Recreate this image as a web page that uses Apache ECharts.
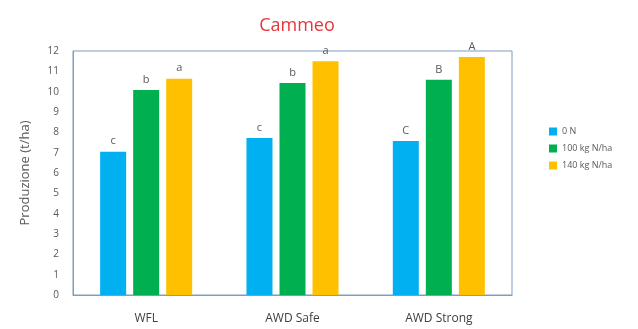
<!DOCTYPE html>
<html>
<head>
<meta charset="utf-8">
<script src="https://cdn.jsdelivr.net/npm/echarts@6/dist/echarts.min.js"></script>
<style>
  html, body { margin: 0; padding: 0; background: #fff; }
  #chart { width: 638px; height: 329px; }
</style>
</head>
<body>
<div id="chart"></div>
<script>
// Rice yield by irrigation regime and nitrogen dose
const categories = ['WFL', 'AWD Safe', 'AWD Strong'];
const seriesNames = ['0 N', '100 kg N/ha', '140 kg N/ha'];
const yield0N = [7.05, 7.72, 7.57];
const yield100N = [10.08, 10.43, 10.58];
const yield140N = [10.63, 11.5, 11.7];
const letters0N = ['c', 'c', 'C'];
const letters100N = ['b', 'b', 'B'];
const letters140N = ['a', 'a', 'A'];
const yTicks = [0, 12, 1];

const colors = ['#00b0f0', '#00b050', '#ffc000'];
const values = [yield0N, yield100N, yield140N];
const letters = [letters0N, letters100N, letters140N];
const font = 'Open Sans, Noto Sans, sans-serif';

const chart = echarts.init(document.getElementById('chart'));
chart.setOption({
  animation: false,
  textStyle: { fontFamily: font },
  title: {
    text: 'Cammeo',
    left: 292, top: 12,
    textAlign: 'center',
    textStyle: { color: '#e8343c', fontSize: 18, fontWeight: 'normal', fontFamily: font }
  },
  legend: {
    orient: 'vertical',
    left: 544, top: 122,
    itemWidth: 8, itemHeight: 8, itemGap: 8,
    icon: 'rect',
    textStyle: { color: '#595959', fontSize: 9, fontFamily: font },
    data: seriesNames
  },
  grid: {
    left: 73, top: 51, right: 126, bottom: 34,
    show: true, borderColor: '#7f9dbf', borderWidth: 1
  },
  xAxis: {
    type: 'category',
    data: categories,
    axisLine: { lineStyle: { color: '#7f9dbf' } },
    axisTick: { show: false },
    axisLabel: { color: '#404040', fontSize: 12, margin: 18, fontFamily: font }
  },
  yAxis: {
    type: 'value',
    min: yTicks[0], max: yTicks[1], interval: yTicks[2],
    name: 'Produzione (t/ha)',
    nameLocation: 'middle',
    nameGap: 41,
    nameTextStyle: { color: '#595959', fontSize: 13, fontFamily: font },
    axisLine: { show: true, lineStyle: { color: '#7f9dbf' } },
    axisTick: { show: false },
    splitLine: { show: false },
    axisLabel: { color: '#595959', fontSize: 10, margin: 14, fontFamily: font }
  },
  series: seriesNames.map((name, i) => ({
    name: name,
    type: 'bar',
    barWidth: 26,
    barGap: '27%',
    itemStyle: { color: colors[i] },
    label: {
      show: true,
      position: 'top',
      distance: 5,
      color: '#595959',
      fontSize: 11,
      fontFamily: font,
      formatter: p => letters[i][p.dataIndex]
    },
    data: values[i]
  }))
});
</script>
</body>
</html>
